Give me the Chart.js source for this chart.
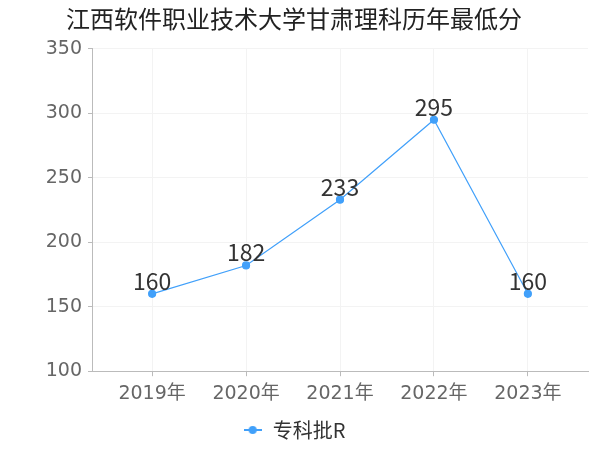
<!DOCTYPE html>
<html>
<head>
<meta charset="utf-8">
<script src="https://cdn.jsdelivr.net/npm/chart.js@4/dist/chart.umd.min.js"></script>
<style>
  html, body { margin: 0; padding: 0; background: #fff; }
  #wrap { width: 600px; height: 450px; }
</style>
</head>
<body>
<div id="wrap"><canvas id="scoreChart" width="600" height="450"></canvas></div>
<script>
const chartTitle = '江西软件职业技术大学甘肃理科历年最低分';
const years = ['2019年', '2020年', '2021年', '2022年', '2023年'];
const seriesName = '专科批R';
const minScores = [160, 182, 233, 295, 160];
const yTicks = [100, 150, 200, 250, 300, 350];

const fontFamily = "'DejaVu Sans', 'Noto Sans CJK SC', sans-serif";
const cjkFont = "'Noto Sans CJK SC', sans-serif";
const lineColor = '#41a0fa';

// legend marker: short line with a dot in the middle
const marker = document.createElement('canvas');
marker.width = 18;
marker.height = 10;
(function () {
    const c = marker.getContext('2d');
    c.strokeStyle = lineColor;
    c.fillStyle = lineColor;
    c.lineWidth = 2;
    c.beginPath();
    c.moveTo(0, 5);
    c.lineTo(18, 5);
    c.stroke();
    c.beginPath();
    c.arc(9, 5, 4, 0, Math.PI * 2);
    c.fill();
})();

// draw the value above each point
const valueLabels = {
    id: 'valueLabels',
    afterDatasetsDraw(chart) {
        const ctx = chart.ctx;
        const meta = chart.getDatasetMeta(0);
        ctx.save();
        ctx.font = '23px ' + cjkFont;
        ctx.fillStyle = '#333';
        ctx.textAlign = 'center';
        ctx.textBaseline = 'alphabetic';
        meta.data.forEach((pt, i) => {
            ctx.fillText(String(minScores[i]), pt.x, pt.y - 4);
        });
        ctx.restore();
    }
};

new Chart(document.getElementById('scoreChart'), {
    type: 'line',
    data: {
        datasets: [{
            label: seriesName,
            data: minScores.map((v, i) => ({ x: i, y: v })),
            borderColor: lineColor,
            backgroundColor: lineColor,
            borderWidth: 1.2,
            pointRadius: 3.5,
            pointHoverRadius: 4,
            tension: 0
        }]
    },
    options: {
        responsive: false,
        animation: false,
        layout: { padding: { left: 0, right: 12, top: 0, bottom: 0 } },
        plugins: {
            title: {
                display: true,
                text: chartTitle,
                color: '#222',
                font: { family: cjkFont, size: 24, weight: 'normal' },
                padding: { top: 4, bottom: 16 }
            },
            legend: {
                position: 'bottom',
                labels: {
                    usePointStyle: true,
                    color: '#333',
                    font: { family: cjkFont, size: 20 },
                    padding: 9,
                    generateLabels(chart) {
                        return [{
                            text: seriesName,
                            fillStyle: lineColor,
                            strokeStyle: lineColor,
                            lineWidth: 0,
                            pointStyle: marker,
                            fontColor: '#333'
                        }];
                    }
                }
            },
            tooltip: { enabled: false }
        },
        scales: {
            x: {
                type: 'linear',
                min: -0.64,
                max: 4.64,
                afterBuildTicks(scale) {
                    scale.ticks = years.map((y, i) => ({ value: i }));
                },
                ticks: {
                    color: '#666',
                    font: { family: fontFamily, size: 19 },
                    padding: 6,
                    callback: (v) => years[v]
                },
                grid: { color: '#f3f3f3', tickLength: 5, tickColor: '#bbb' },
                border: { color: '#bbb' }
            },
            y: {
                min: 100,
                max: 350,
                afterBuildTicks(scale) {
                    scale.ticks = yTicks.map(v => ({ value: v }));
                },
                afterFit(scale) { scale.width = 92; },
                ticks: {
                    color: '#666',
                    font: { family: fontFamily, size: 19 },
                    padding: 6
                },
                grid: { color: '#f3f3f3', tickLength: 4, tickColor: '#bbb' },
                border: { color: '#bbb' }
            }
        }
    },
    plugins: [valueLabels]
});
</script>
</body>
</html>
